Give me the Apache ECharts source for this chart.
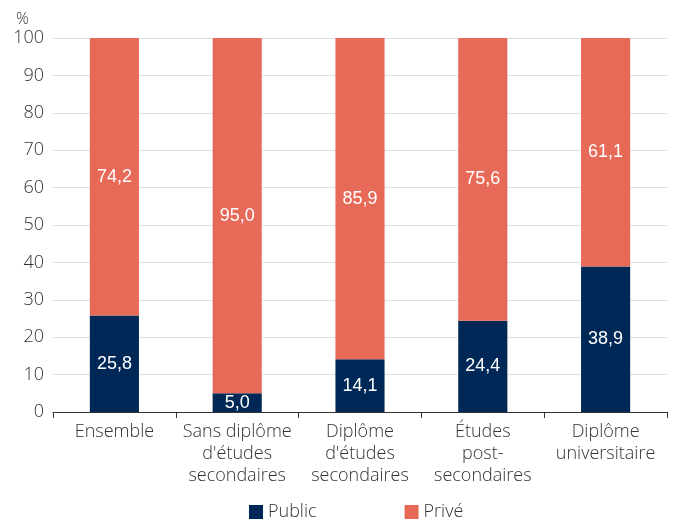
<!DOCTYPE html>
<html>
<head>
<meta charset="utf-8">
<script src="https://cdn.jsdelivr.net/npm/echarts@6/dist/echarts.min.js"></script>
<style>
  html, body { margin: 0; padding: 0; background: #fff; }
  #main { width: 673px; height: 520px; }
</style>
</head>
<body>
<div id="main"></div>
<script>
var categories = ['Ensemble', "Sans diplôme\nd'études\nsecondaires", "Diplôme\nd'études\nsecondaires", 'Études\npost-\nsecondaires', 'Diplôme\nuniversitaire'];
var publicValues = [25.8, 5.0, 14.1, 24.4, 38.9];
var priveValues = [74.2, 95.0, 85.9, 75.6, 61.1];

var chart = echarts.init(document.getElementById('main'));

function fmt(p) {
  return p.value.toFixed(1).replace('.', ',');
}

var barLabel = {
  show: true,
  position: 'inside',
  color: '#fff',
  fontFamily: 'Liberation Sans, Arial, sans-serif',
  fontSize: 18,
  formatter: fmt
};

var option = {
  animation: false,
  title: {
    text: '%',
    left: 11,
    top: 6,
    textStyle: { fontFamily: 'Open Sans', fontSize: 16, fontWeight: 300, color: '#333' }
  },
  grid: { left: 53, right: 6, top: 38, bottom: 108 },
  legend: {
    data: ['Public', 'Privé'],
    top: 498,
    left: 244,
    itemGap: 88,
    itemWidth: 14,
    itemHeight: 14,
    icon: 'rect',
    textStyle: { fontFamily: 'Open Sans', fontSize: 18, fontWeight: 300, color: '#333' }
  },
  xAxis: {
    type: 'category',
    data: categories,
    axisLine: { lineStyle: { color: '#333', width: 1 } },
    axisTick: { show: true, length: 6, lineStyle: { color: '#333' } },
    axisLabel: {
      fontFamily: 'Open Sans',
      fontSize: 18,
      fontWeight: 300,
      color: '#333',
      lineHeight: 22,
      margin: 9,
      interval: 0
    }
  },
  yAxis: {
    type: 'value',
    min: 0,
    max: 100,
    interval: 10,
    axisLine: { show: false },
    axisTick: { show: false },
    axisLabel: { fontFamily: 'Open Sans', fontSize: 18, fontWeight: 300, color: '#333', margin: 9 },
    splitLine: { lineStyle: { color: '#e0e0e0', width: 1 } }
  },
  series: [
    {
      name: 'Public',
      type: 'bar',
      stack: 'total',
      barWidth: '40%',
      data: publicValues,
      itemStyle: { color: '#002856' },
      label: barLabel
    },
    {
      name: 'Privé',
      type: 'bar',
      stack: 'total',
      barWidth: '40%',
      data: priveValues,
      itemStyle: { color: '#e76a59' },
      label: barLabel
    }
  ]
};

chart.setOption(option);
</script>
</body>
</html>
